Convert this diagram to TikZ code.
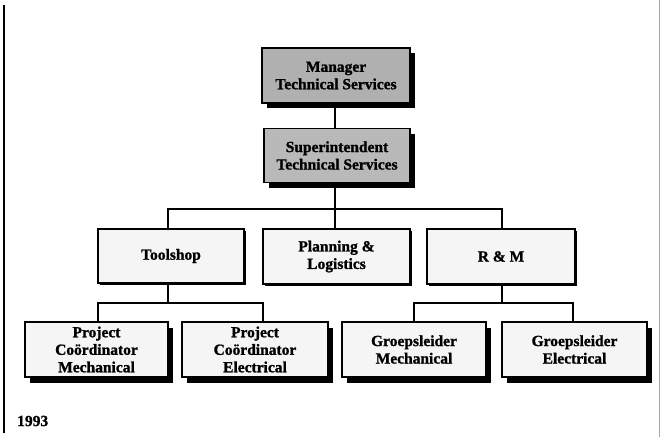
\documentclass[tikz,border=0pt]{standalone}
\usepackage{fontspec}
\setmainfont{Liberation Serif}
\newfontfamily\heavyserif{Liberation Serif Bold}[FakeBold=1.2]
\usetikzlibrary{shadows}
\begin{document}
\begin{tikzpicture}[x=1pt,y=-1pt,
  box/.style={draw=black, line width=1.5pt, rectangle, align=center,
    font=\fontsize{15.5}{17.5}\selectfont\heavyserif, inner sep=0pt},
  darkbox/.style={box, fill=gray!55,
    drop shadow={shadow xshift=5pt, shadow yshift=-5pt, fill=black, opacity=1}},
  midbox/.style={box, fill=gray!8,
    drop shadow={shadow xshift=2pt, shadow yshift=-2pt, fill=black, opacity=1}},
  lowbox/.style={box, fill=gray!8,
    drop shadow={shadow xshift=5pt, shadow yshift=-6pt, fill=black, opacity=1}},
  link/.style={draw=black, line width=1.1pt}]
  \useasboundingbox (0,0) rectangle (662,437);
  \fill[white] (0,0) rectangle (662,437);

  % page frame
  \draw[line width=2pt] (4,5) -- (4,433);
  \draw[line width=0.6pt, gray!70] (659.5,0) -- (659.5,437);

  % top management
  \node[darkbox, fill=gray!62, minimum width=148pt, minimum height=55pt] (mgr) at (336,75.5)
    {Manager\\Technical Services};
  \node[darkbox, minimum width=146pt, minimum height=54pt] (sup) at (337,155.5)
    {Superintendent\\Technical Services};

  % departments
  \node[midbox, minimum width=146pt, minimum height=54pt] (tool) at (171,256) {Toolshop};
  \node[midbox, minimum width=147pt, minimum height=55pt] (plan) at (336.5,256.5) {Planning \&\\Logistics};
  \node[midbox, minimum width=148pt, minimum height=55pt] (rm) at (501,256.5) {R \& M};

  % sections
  \node[lowbox, minimum width=143pt, minimum height=55pt] (pcm) at (96.5,349.5)
    {Project\\Coördinator\\Mechanical};
  \node[lowbox, minimum width=146pt, minimum height=55pt] (pce) at (255,349.5)
    {Project\\Coördinator\\Electrical};
  \node[lowbox, minimum width=144pt, minimum height=55pt] (gm) at (414,349.5)
    {Groepsleider\\Mechanical};
  \node[lowbox, minimum width=145pt, minimum height=55pt] (ge) at (574.5,349.5)
    {Groepsleider\\Electrical};

  % bus points
  \coordinate (bus1) at (335,209);
  \coordinate (bus2) at (168,303);
  \coordinate (bus3) at (502,303);

  % connectors
  \draw[link] ([xshift=-1pt]mgr.south) -- ([xshift=-2pt]sup.north);
  \draw[link] ([xshift=-2pt]sup.south) -- (bus1);
  \draw[link] ([xshift=-3pt]tool.north) |- (bus1) -| ([xshift=1pt]rm.north);
  \draw[link] (bus1) -- ([xshift=-1.5pt]plan.north);
  \draw[link] ([xshift=-3pt]tool.south) -- (bus2);
  \draw[link] ([xshift=1.5pt]pcm.north) |- (bus2) -| ([xshift=8pt]pce.north);
  \draw[link] ([xshift=1pt]rm.south) -- (bus3);
  \draw[link] (gm.north) |- (bus3) -| ([xshift=-1.5pt]ge.north);

  % year
  \node[font=\fontsize{15.5}{17.5}\selectfont\heavyserif, anchor=west, inner sep=0pt] (year) at (17,421) {1993};
\end{tikzpicture}
\end{document}
